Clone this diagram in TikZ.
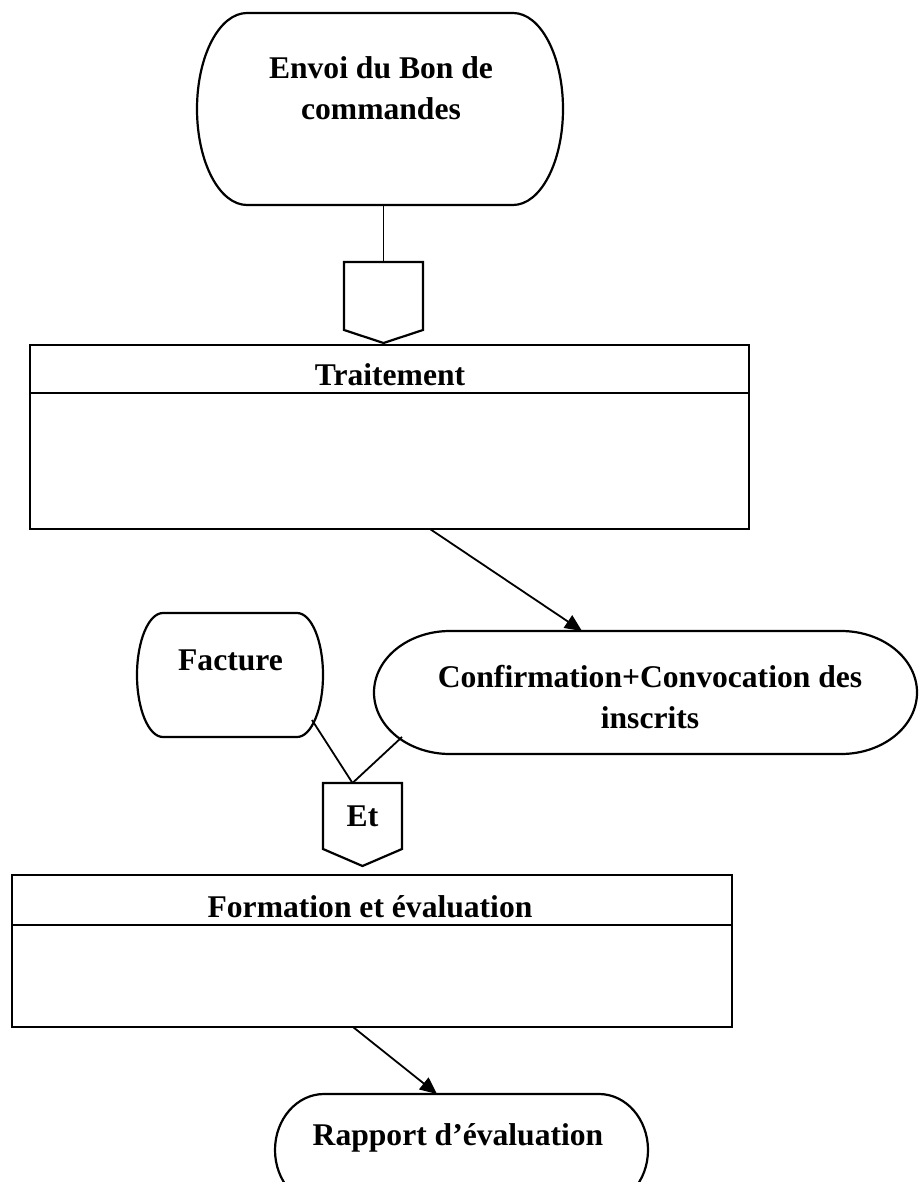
\documentclass[tikz,border=0pt]{standalone}
\usepackage{fontspec}
\setmainfont{Liberation Serif}
\usepackage{tikz}
\usetikzlibrary{arrows.meta,calc,positioning}

\tikzset{every node/.append style={font=\bfseries\fontsize{31.6}{41}\selectfont}}
\tikzset{hold/.style 2 args={inner sep=0pt, outer sep=0pt, minimum width=#1, minimum height=#2}}
\tikzset{shapeframe/.style={draw, line width=2.2pt}}
\tikzset{link/.style={line width=1.8pt}}
\tikzset{flow/.style={link, -{Triangle[length=17pt,width=15pt]}}}

% outline with curved sides round a hold node
\newcommand\capsule[2]{%
  \draw[shapeframe] let \p1=($(#1.north)-(#1.south)$) in
    ([xshift=#2]#1.north west) -- ([xshift=-#2]#1.north east)
    arc[start angle=90, end angle=-90, x radius=#2, y radius=0.5*\y1]
    -- ([xshift=#2]#1.south west)
    arc[start angle=270, end angle=90, x radius=#2, y radius=0.5*\y1] -- cycle;
}

\begin{document}
\begin{tikzpicture}[x=1pt, y=-1pt]
\clip (0,0) rectangle (918,1182);

%start
\node[hold={366pt}{192pt}] (envoi) at (380,109) {};
\capsule{envoi}{50pt}
\node[anchor=base, align=center] (envoi-t) at (381,120) {Envoi du Bon de\\commandes};

\node[hold={79pt}{68pt}] (and1) at (383.5,296) {};
\draw[shapeframe] (and1.north west) -- (and1.north east) -- (and1.south east) -- ([yshift=-13pt]and1.south) -- (and1.south west) -- cycle;
\draw[link] (envoi.south -| and1.north) -- (and1.north);

%Traitement
\node[hold={719pt}{184pt}, shapeframe] (trait) at (389.5,437) {};
\draw[shapeframe] ([yshift=-48pt]trait.north west) -- ([yshift=-48pt]trait.north east);
\node[anchor=base] (trait-t) at (390,385) {Traitement};

%results
\node[hold={186pt}{124pt}] (fact) at (230,675) {};
\capsule{fact}{26pt}
\node[anchor=base] (fact-t) at (230.5,670) {Facture};

\node[hold={543pt}{123pt}] (conf) at (645.5,692.5) {};
\capsule{conf}{76pt}
\node[anchor=base, align=center] (conf-t) at (650,728) {Confirmation+Convocation des\\inscrits};

\draw[flow] ([xshift=40.5pt]trait.south) -- ([xshift=-63.5pt]conf.north);

%Et
\node[hold={79pt}{66pt}] (et) at (362.5,816) {Et};
\draw[shapeframe] (et.north west) -- (et.north east) -- (et.south east) -- ([yshift=-17pt]et.south) -- (et.south west) -- cycle;
\coordinate (join) at ([xshift=-10pt]et.north);
\draw[link] ([xshift=-11pt,yshift=17pt]fact.south east) -- (join);
\draw[link] ([xshift=28pt,yshift=17pt]conf.south west) -- (join);

%Formation
\node[hold={720pt}{152pt}, shapeframe] (form) at (372,951) {};
\draw[shapeframe] ([yshift=-50pt]form.north west) -- ([yshift=-50pt]form.north east);
\node[anchor=base] (form-t) at (370,917) {Formation et évaluation};

%end
\node[hold={373pt}{112pt}] (rapp) at (461.5,1150) {};
\capsule{rapp}{49pt}
\node[anchor=base] (rapp-t) at (458,1145) {Rapport d’évaluation};
\draw[flow] ([xshift=-19pt]form.south) -- ([xshift=-24.5pt]rapp.north);
\end{tikzpicture}
\end{document}
